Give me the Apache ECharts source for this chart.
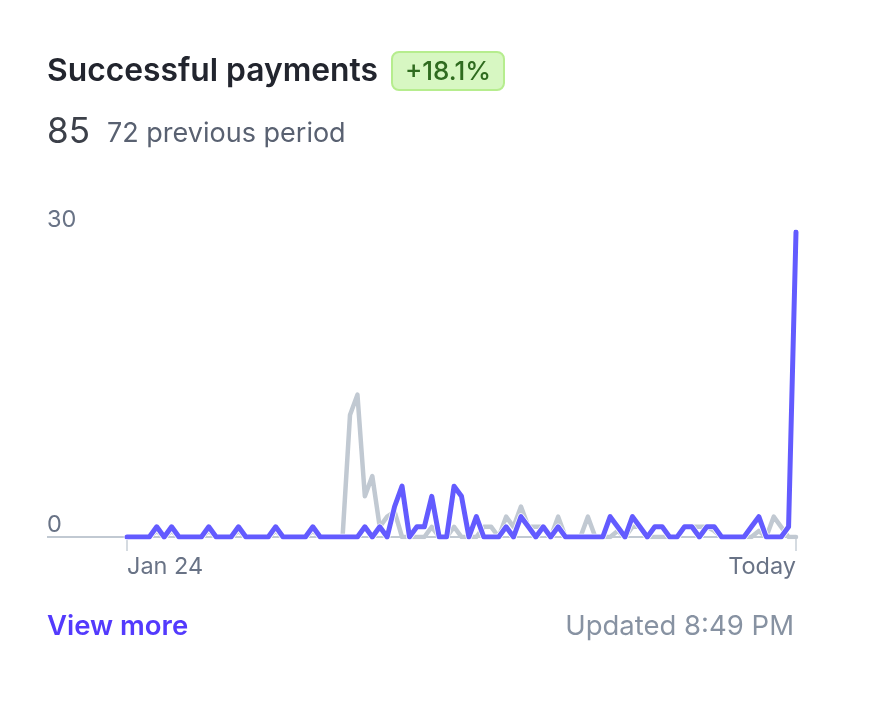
<!DOCTYPE html>
<html lang="en">
<head>
    <meta charset="UTF-8">
    <title>Successful payments</title>
    <script src="https://cdn.jsdelivr.net/npm/echarts@6/dist/echarts.min.js"></script>
    <style>
        html, body { margin: 0; padding: 0; background: #fff; }
        #chartContainer { width: 884px; height: 706px; }
    </style>
</head>
<body>
    <div id="chartContainer"></div>

    <script>
        // one value per day, oldest first
        const currentPeriod = [
            0, 0, 0, 0, 1, 0, 1, 0, 0, 0,
            0, 1, 0, 0, 0, 1, 0, 0, 0, 0,
            1, 0, 0, 0, 0, 1, 0, 0, 0, 0,
            0, 0, 1, 0, 1, 0, 3, 5, 0, 1,
            1, 4, 0, 0, 5, 4, 0, 2, 0, 0,
            0, 1, 0, 2, 1, 0, 1, 0, 1, 0,
            0, 0, 0, 0, 0, 2, 1, 0, 2, 1,
            0, 1, 1, 0, 0, 1, 1, 0, 1, 1,
            0, 0, 0, 0, 1, 2, 0, 0, 0, 1,
            30
        ];
        const previousPeriod = [
            0, 0, 0, 0, 0.6, 0, 0.6, 0, 0, 0,
            0, 0.6, 0, 0, 0, 0.6, 0, 0, 0, 0,
            0.6, 0, 0, 0, 0, 0.6, 0, 0, 0, 0,
            12, 14, 4, 6, 1, 2, 2.5, 0, 0, 0,
            0, 1, 0, 0, 1, 0, 0, 0, 1, 1,
            0, 2, 1, 3, 1, 1, 1, 0, 2, 0,
            0, 0, 2, 0, 0, 0, 0.6, 0, 1, 1,
            0, 0, 0, 0, 0, 1, 1, 1, 1, 0.6,
            0, 0, 0, 0, 0, 0.6, 0, 2, 1, 0,
            0
        ];
        const firstDayLabel = 'Jan 24';
        const lastDayLabel = 'Today';
        const yMax = 30;

        const lastIndex = currentPeriod.length - 1;
        const days = currentPeriod.map((v, i) => i === 0 ? firstDayLabel : i === lastIndex ? lastDayLabel : 'd' + i);
        const isEnd = (i) => i === 0 || i === lastIndex;
        const uiFont = 'Inter, "Noto Sans", sans-serif';

        const chart = echarts.init(document.getElementById('chartContainer'), null, { renderer: 'canvas' });

        function plainLine(name, data, color, width) {
            return {
                name: name,
                type: 'line',
                data: data,
                showSymbol: false,
                silent: true,
                animation: false,
                lineStyle: { color: color, width: width, cap: 'round', join: 'round' }
            };
        }

        function label(x, y, text, size, weight, color, align) {
            return {
                type: 'text',
                x: x,
                y: y,
                z: 10,
                style: {
                    text: text,
                    font: `${weight} ${size}px ${uiFont}`,
                    fill: color,
                    align: align || 'left',
                    verticalAlign: 'middle'
                }
            };
        }

        chart.setOption({
            animation: false,
            grid: { left: 127, right: 88, top: 232, bottom: 169 },
            xAxis: {
                type: 'category',
                boundaryGap: false,
                data: days,
                axisLine: { lineStyle: { color: '#c1c9d2', width: 2 } },
                axisTick: {
                    interval: (i) => isEnd(i),
                    length: 14,
                    lineStyle: { color: '#d5dbe1', width: 2 }
                },
                axisLabel: {
                    interval: (i) => isEnd(i),
                    margin: 18,
                    color: '#697386',
                    fontFamily: uiFont,
                    fontSize: 23.5,
                    alignMinLabel: 'left',
                    alignMaxLabel: 'right'
                }
            },
            yAxis: {
                type: 'value',
                min: 0,
                max: yMax,
                interval: yMax,
                axisLine: { show: false },
                axisTick: { show: false },
                splitLine: { show: false },
                axisLabel: {
                    margin: 80,
                    align: 'left',
                    verticalAlign: 'bottom',
                    color: '#697386',
                    fontFamily: uiFont,
                    fontSize: 23.5
                }
            },
            series: [
                plainLine('Previous period', previousPeriod, '#c1c9d2', 4.5),
                plainLine('halo', currentPeriod, '#ffffff', 6.5),
                plainLine('Current period', currentPeriod, '#635bff', 5)
            ],
            graphic: [
                // baseline runs on left of the first day, under the 0 label
                { type: 'line', shape: { x1: 47, y1: 537, x2: 127, y2: 537 }, style: { stroke: '#c1c9d2', lineWidth: 2 } },
                label(47, 71, 'Successful payments', 31.8, 600, '#22252e'),
                { type: 'rect', shape: { x: 392, y: 52, width: 112, height: 38, r: 7 }, style: { fill: '#d7f7c2', stroke: '#b6ed8e', lineWidth: 2 } },
                label(448, 72, '+18.1%', 26, 500, '#2f6b1f', 'center'),
                label(47, 132, '85', 35, 400, '#3c4049'),
                label(107, 134, '72 previous period', 27, 400, '#596171'),
                label(47, 627, 'View more', 27.5, 600, '#533afd'),
                label(794, 627, 'Updated 8:49 PM', 27.5, 400, '#8792a2', 'right')
            ]
        });
    </script>
</body>
</html>
